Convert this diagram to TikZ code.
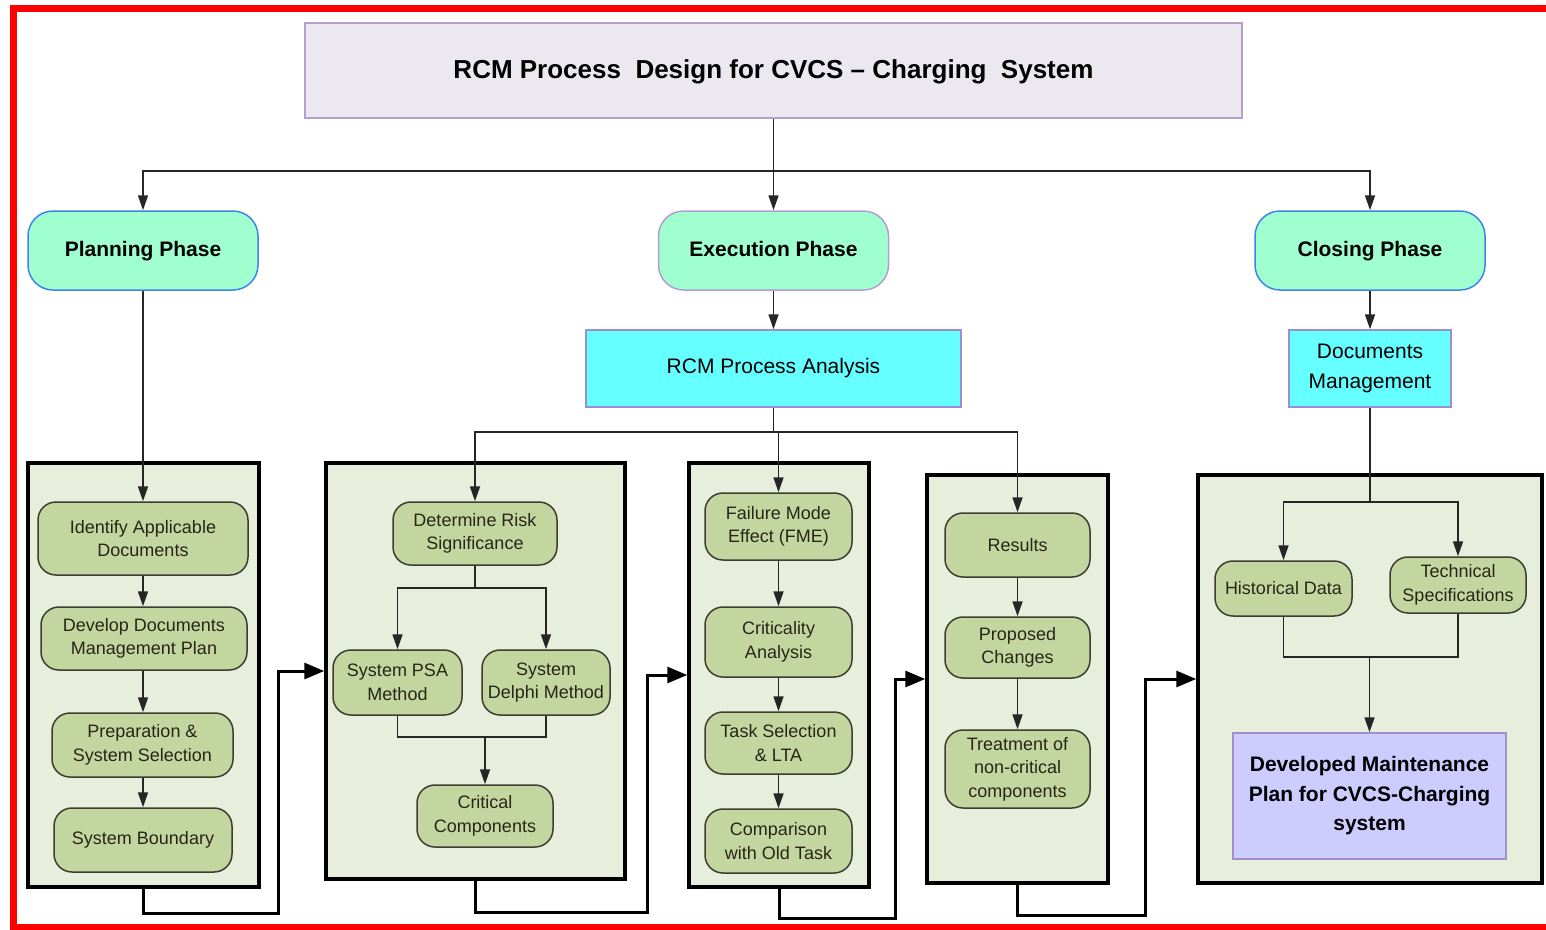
\documentclass[tikz,border=0pt]{standalone}
\usepackage{fontspec}
\setmainfont{Liberation Sans}
\usetikzlibrary{arrows.meta}

\definecolor{titlefill}{HTML}{ECE8F0}
\definecolor{titleborder}{HTML}{B4A0CC}
\definecolor{phasefill}{HTML}{9FFFCF}
\definecolor{phaseblue}{HTML}{3D85EA}
\definecolor{phaselilac}{HTML}{B49CD6}
\definecolor{cyanfill}{HTML}{66FFFF}
\definecolor{cyanborder}{HTML}{9A90D0}
\definecolor{groupfill}{HTML}{E8EEDC}
\definecolor{stepfill}{HTML}{C4D69F}
\definecolor{stepborder}{HTML}{3C3C30}
\definecolor{steptext}{HTML}{262618}
\definecolor{planfill}{HTML}{CCCCFF}
\definecolor{planborder}{HTML}{A48FCB}
\definecolor{frame}{HTML}{FF0000}

\tikzset{
  base/.style={inner sep=0pt, align=center, text=black},
  titlebox/.style={base, draw=titleborder, fill=titlefill, line width=2pt,
    text height=19pt, text depth=3pt,
    font=\fontsize{26}{30}\selectfont\bfseries},
  phasebox/.style={base, fill=phasefill, line width=1.5pt, rounded corners=25pt,
    minimum width=230pt, minimum height=79pt, text height=15pt, text depth=4pt,
    font=\fontsize{21}{25}\selectfont\bfseries},
  cyanbox/.style={base, draw=cyanborder, fill=cyanfill, line width=1.5pt,
    font=\fontsize{21}{30}\selectfont},
  groupbox/.style={draw=black, fill=groupfill, line width=3.5pt, inner sep=0pt},
  stepbox/.style={base, draw=stepborder, fill=stepfill, line width=1.5pt,
    rounded corners=18pt, text=steptext, font=\fontsize{18}{23.5}\selectfont},
  planbox/.style={base, draw=planborder, fill=planfill, line width=1.5pt,
    font=\fontsize{21}{29.5}\selectfont\bfseries},
  flow/.style={draw=black!85, line width=1.7pt, -{Triangle[length=15pt,width=10pt]}},
  link/.style={draw=black!85, line width=1.7pt},
  handoff/.style={draw=black, line width=3pt, -{Triangle[length=20pt,width=16pt]}},
}

\begin{document}
\begin{tikzpicture}[x=1pt, y=-1pt]
\useasboundingbox (0,0) rectangle (1546,929);
\fill[white] (0,0) rectangle (1546,929);

% outer frame
\draw[frame, line width=7pt] (13.5,8.5) -- (1580,8.5);
\draw[frame, line width=7pt] (13.5,5) -- (13.5,930);
\draw[frame, line width=6pt] (10,927) -- (1580,927);

% title and phases
\node[titlebox, minimum width=937pt, minimum height=95pt] (title) at (773.5,70.5)
  {RCM Process\ \ Design for CVCS -- Charging\ \ System};
\node[phasebox, draw=phaseblue]  (plan)  at (143,250.5)  {Planning Phase};
\node[phasebox, draw=phaselilac] (exec)  at (773.5,250.5)  {Execution Phase};
\node[phasebox, draw=phaseblue]  (close) at (1370,250.5) {Closing Phase};

\node[cyanbox, minimum width=375pt, minimum height=77pt] (rcm) at (773.5,368.5)
  {RCM Process Analysis};
\node[cyanbox, minimum width=162pt, minimum height=77pt] (docm) at (1370,368.5)
  {Documents\\Management};

% stage groups
\node[groupbox, minimum width=231pt, minimum height=424pt] (g1) at (143.5,675) {};
\node[groupbox, minimum width=299pt, minimum height=416pt] (g2) at (475.5,671) {};
\node[groupbox, minimum width=180pt, minimum height=424pt] (g3) at (779,675) {};
\node[groupbox, minimum width=181pt, minimum height=408pt] (g4) at (1017.5,679) {};
\node[groupbox, minimum width=344pt, minimum height=408pt] (g5) at (1370,679) {};

% planning steps
\node[stepbox, minimum width=210pt, minimum height=73pt] (n1) at (143,538.5) {Identify Applicable\\Documents};
\node[stepbox, minimum width=206pt, minimum height=63pt] (n2) at (144,638.5) {Develop Documents\\Management Plan};
\node[stepbox, minimum width=181pt, minimum height=64pt] (n3) at (142.5,745) {Preparation \&\\System Selection};
\node[stepbox, minimum width=178pt, minimum height=64pt] (n4) at (143,840) {System Boundary};

% risk significance steps
\node[stepbox, minimum width=164pt, minimum height=63pt] (m1) at (475,533.5) {Determine Risk\\Significance};
\node[stepbox, minimum width=129pt, minimum height=65pt] (m2) at (397.5,682.5) {System PSA\\Method};
\node[stepbox, minimum width=128pt, minimum height=65pt] (m3) at (546,682.5) {System\\Delphi Method};
\node[stepbox, minimum width=136pt, minimum height=62pt] (m4) at (485,816) {Critical\\Components};

% failure analysis steps
\node[stepbox, minimum width=147pt, minimum height=67pt] (e1) at (778.5,526.5) {Failure Mode\\Effect (FME)};
\node[stepbox, minimum width=147pt, minimum height=70pt] (e2) at (778.5,642) {Criticality\\Analysis};
\node[stepbox, minimum width=147pt, minimum height=62pt] (e3) at (778.5,743) {Task Selection\\\& LTA};
\node[stepbox, minimum width=147pt, minimum height=64pt] (e4) at (778.5,841) {Comparison\\with Old Task};

% result steps
\node[stepbox, minimum width=145pt, minimum height=64pt] (r1) at (1017.5,545) {Results};
\node[stepbox, minimum width=145pt, minimum height=61pt] (r2) at (1017.5,647.5) {Proposed\\Changes};
\node[stepbox, minimum width=145pt, minimum height=78pt] (r3) at (1017.5,769) {Treatment of\\non-critical\\components};

% closing steps
\node[stepbox, minimum width=137pt, minimum height=55pt] (c1) at (1283.5,588.5) {Historical Data};
\node[stepbox, minimum width=136pt, minimum height=56pt] (c2) at (1458,585) {Technical\\Specifications};
\node[planbox, minimum width=273pt, minimum height=126pt] (c3) at (1369.5,796)
  {Developed Maintenance\\Plan for CVCS-Charging\\system};

% junction points
\coordinate (tb) at (773.5,171);
\coordinate (rb) at (773.5,432);
\coordinate (db) at (1370,502);
\coordinate (ms) at (475,588);
\coordinate (mj) at (485,737);
\coordinate (cj) at (1369.5,657);
\coordinate (k1) at (278,913);
\coordinate (k2) at (647,912);
\coordinate (k3) at (895,918);
\coordinate (k4) at (1145,915);

% top-level connectors
\draw[flow] (title.south) -- (exec.north);
\draw[flow] (tb) -| (plan.north);
\draw[flow] (tb) -| (close.north);
\draw[flow] (plan.south) -- (n1.north);
\draw[flow] (exec.south) -- (rcm.north);
\draw[flow] (close.south) -- (docm.north);

\draw[link] (rcm.south) -- (rb);
\draw[flow] (rb) -| (m1.north);
\draw[flow] (rb) -| (e1.north);
\draw[flow] (rb) -| (r1.north);

% planning chain
\draw[flow] (n1.south) -- (n1.south |- n2.north);
\draw[flow] (n2.south -| n1.south) -- (n1.south |- n3.north);
\draw[flow] (n3.south -| n1.south) -- (n1.south |- n4.north);

% risk significance branches
\draw[link] (m1.south) -- (ms);
\draw[flow] (ms) -| (m2.north);
\draw[flow] (ms) -| (m3.north);
\draw[link] (m2.south) |- (mj);
\draw[link] (m3.south) |- (mj);
\draw[flow] (mj) -- (m4.north);

% failure analysis chain
\draw[flow] (e1.south) -- (e2.north);
\draw[flow] (e2.south) -- (e3.north);
\draw[flow] (e3.south) -- (e4.north);

% result chain
\draw[flow] (r1.south) -- (r2.north);
\draw[flow] (r2.south) -- (r3.north);

% closing branches
\draw[link] (docm.south) -- (db);
\draw[flow] (db) -| (c1.north);
\draw[flow] (db) -| (c2.north);
\draw[link] (c1.south) |- (cj);
\draw[link] (c2.south) |- (cj);
\draw[flow] (cj) -- (c3.north);

% hand-offs between stages
\draw[handoff] (g1.south) |- (k1) |- (g2.west);
\draw[handoff] (g2.south) |- (k2) |- (g3.west);
\draw[handoff] (g3.south) |- (k3) |- (g4.west);
\draw[handoff] (g4.south) |- (k4) |- (g5.west);
\end{tikzpicture}
\end{document}
